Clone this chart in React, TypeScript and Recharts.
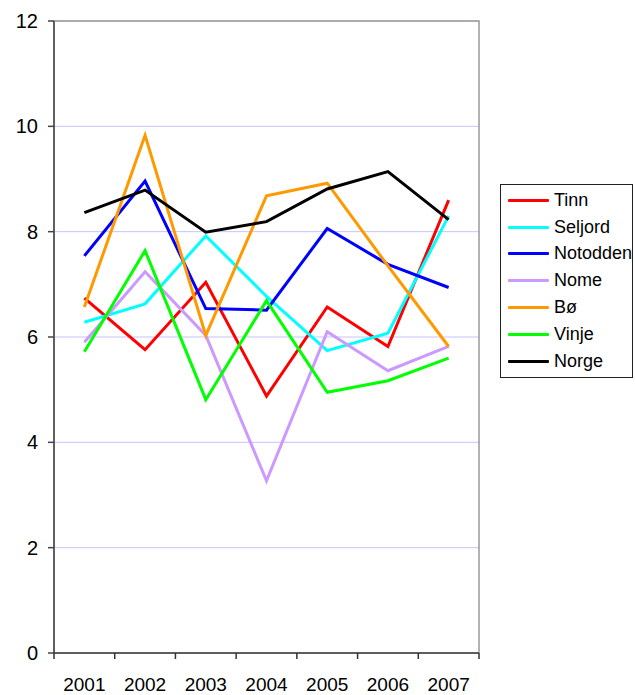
import React from "react";
import {
  LineChart,
  Line,
  XAxis,
  YAxis,
  CartesianGrid,
  Legend,
  ReferenceArea,
} from "recharts";

// Kategorier og verdier (lest av figuren)
const years = ["2001", "2002", "2003", "2004", "2005", "2006", "2007"];
const tinn = [6.74, 5.76, 7.04, 4.88, 6.57, 5.82, 8.6];
const seljord = [6.28, 6.63, 7.92, 6.77, 5.74, 6.07, 8.3];
const notodden = [7.54, 8.96, 6.54, 6.51, 8.06, 7.38, 6.94];
const nome = [5.9, 7.24, 6.03, 3.27, 6.1, 5.36, 5.82];
const bo = [6.57, 9.83, 6.03, 8.68, 8.92, 7.35, 5.82];
const vinje = [5.72, 7.64, 4.81, 6.69, 4.95, 5.17, 5.6];
const norge = [8.36, 8.79, 7.99, 8.19, 8.81, 9.14, 8.23];
const yTicks = [0, 2, 4, 6, 8, 10, 12];

const series = [
  { key: "Tinn", values: tinn, color: "#ff0000" },
  { key: "Seljord", values: seljord, color: "#00ffff" },
  { key: "Notodden", values: notodden, color: "#0000ff" },
  { key: "Nome", values: nome, color: "#cc99ff" },
  { key: "Bø", values: bo, color: "#ff9900" },
  { key: "Vinje", values: vinje, color: "#00ff00" },
  { key: "Norge", values: norge, color: "#000000" },
];
const order = series.map((s) => s.key);

const data = years.map((year, i) => {
  const row: Record<string, string | number> = { year };
  series.forEach((s) => {
    row[s.key] = s.values[i];
  });
  return row;
});

const FONT = "Arial, 'Liberation Sans', sans-serif";

// x-akse: etikett midt i kategorien, merke mellom kategoriene
const YearTick = (props: any) => {
  const { x, y, payload, index } = props;
  const half = payload?.offset ?? 0;
  return (
    <g>
      <line x1={x - half} y1={y} x2={x - half} y2={y + 6} stroke="#333" strokeWidth={1.5} />
      {index === years.length - 1 && (
        <line x1={x + half} y1={y} x2={x + half} y2={y + 6} stroke="#333" strokeWidth={1.5} />
      )}
      <text
        x={x}
        y={y + 38}
        textAnchor="middle"
        fill="#000"
        fontSize={19}
        fontFamily={FONT}
      >
        {payload.value}
      </text>
    </g>
  );
};

const LegendBox = (props: any) => {
  const items = [...(props.payload || [])].sort(
    (a: any, b: any) => order.indexOf(a.value) - order.indexOf(b.value)
  );
  return (
    <div
      style={{
        border: "1px solid #222",
        background: "#fff",
        boxSizing: "border-box",
        width: 133,
        height: 194,
        paddingTop: 2,
        fontFamily: FONT,
        fontSize: 18,
        color: "#000",
      }}
    >
      {items.map((p: any) => (
        <div
          key={p.value}
          style={{ display: "flex", alignItems: "center", height: 26.8 }}
        >
          <span
            style={{
              display: "inline-block",
              marginLeft: 7,
              width: 41,
              height: 3,
              background: p.color,
              borderRadius: 1,
            }}
          />
          <span style={{ marginLeft: 5, whiteSpace: "nowrap" }}>{p.value}</span>
        </div>
      ))}
    </div>
  );
};

const App = () => {
  return (
    <div style={{ position: "absolute", left: 0, top: 0, background: "#fff" }}>
      <LineChart
        width={635}
        height={695}
        data={data}
        margin={{ top: 21, right: 156, bottom: 0, left: 0 }}
      >
        <CartesianGrid vertical={false} stroke="#c4c4ff" strokeWidth={1} />
        {/* grå ramme rundt plottområdet */}
        <ReferenceArea
          x1={years[0]}
          x2={years[years.length - 1]}
          y1={0}
          y2={12}
          fill="none"
          fillOpacity={0}
          stroke="#999"
          strokeWidth={1.5}
          ifOverflow="visible"
        />
        <XAxis
          dataKey="year"
          scale="band"
          height={42}
          tickLine={false}
          tickSize={0}
          tickMargin={0}
          tick={<YearTick />}
          axisLine={{ stroke: "#444", strokeWidth: 1.5 }}
          interval={0}
        />
        <YAxis
          domain={[0, 12]}
          ticks={yTicks}
          width={54}
          tickSize={6}
          tickMargin={10}
          interval={0}
          tickLine={{ stroke: "#444", strokeWidth: 1.5 }}
          axisLine={{ stroke: "#444", strokeWidth: 1.5 }}
          tick={{ fill: "#000", fontSize: 20, fontFamily: FONT }}
        />
        <Legend
          layout="vertical"
          align="center"
          verticalAlign="middle"
          content={<LegendBox />}
          wrapperStyle={{ left: 500, top: 184, width: 133, height: 194 }}
        />
        {series.map((s) => (
          <Line
            key={s.key}
            type="linear"
            dataKey={s.key}
            stroke={s.color}
            strokeWidth={3}
            dot={false}
            activeDot={false}
            isAnimationActive={false}
          />
        ))}
      </LineChart>
    </div>
  );
};

export default App;
